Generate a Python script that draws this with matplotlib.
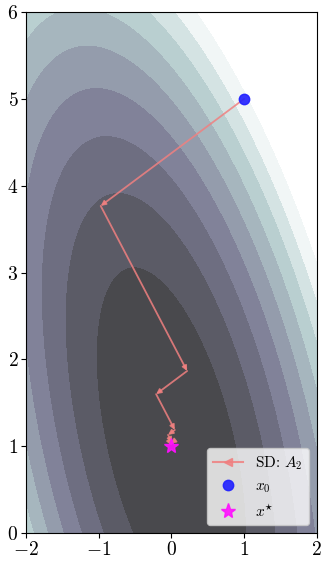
import numpy as np
import matplotlib
matplotlib.use("Agg")
import matplotlib.pyplot as plt
from matplotlib.lines import Line2D
from matplotlib.colors import ListedColormap

plt.rcParams['font.family'] = ['cmr10', 'DejaVu Sans']
plt.rcParams['mathtext.fontset'] = 'cm'
plt.rcParams['axes.unicode_minus'] = False

# Quadratic A_2 and minimiser
A2 = np.array([[4.0, 1.0], [1.0, 1.0]])
x_star = [0.0, 1.0]
x0 = [1.0, 5.0]
levels = [0.0, 1.6, 3.2, 4.8, 6.4, 8.0, 9.6, 11.2, 12.8, 14.4]

# steepest-descent iterates (exact line search)
path_x = [1.0, -0.972, 0.216, -0.210, 0.047, -0.046, 0.010, -0.010, 0.002]
path_y = [5.0, 3.767, 1.866, 1.599, 1.187, 1.130, 1.041, 1.028, 1.009]

xticks = [-2, -1, 0, 1, 2]
xtick_labels = ['$-2$', '$-1$', '$0$', '$1$', '$2$']
yticks = [0, 1, 2, 3, 4, 5, 6]
ytick_labels = ['$0$', '$1$', '$2$', '$3$', '$4$', '$5$', '$6$']

fig = plt.figure(figsize=(3.24, 5.62), dpi=100)
ax = fig.add_axes([0.080, 0.0516, 0.898, 0.927])

# bone colormap blended with white (alpha 0.75) -> opaque, no seams
alpha = 0.75
base = plt.get_cmap('bone')(np.linspace(0, 1, 256))[:, :3]
blend = 1 - alpha + alpha * base
cmap = ListedColormap(blend)

gx = np.linspace(-2, 2, 400)
gy = np.linspace(0, 6, 600)
X, Y = np.meshgrid(gx, gy)
DX = X - x_star[0]
DY = Y - x_star[1]
F = 0.5 * (A2[0, 0] * DX**2 + 2 * A2[0, 1] * DX * DY + A2[1, 1] * DY**2)
ax.contourf(X, Y, F, levels=levels, cmap=cmap, antialiased=False)

lc = '#f08080'
for i in range(len(path_x) - 1):
    ax.annotate('', xy=(path_x[i + 1], path_y[i + 1]), xytext=(path_x[i], path_y[i]),
                arrowprops=dict(arrowstyle='-|>', color=lc, lw=1.3, alpha=0.85,
                                mutation_scale=7, shrinkA=0, shrinkB=0))

ax.plot([x0[0]], [x0[1]], 'o', color='#2020ff', alpha=0.9, markersize=7.5, zorder=5)
ax.plot([x_star[0]], [x_star[1]], '*', color='#ff10ff', alpha=0.9, markersize=11, zorder=5)

ax.set_xlim(-2, 2)
ax.set_ylim(0, 6)
ax.set_xticks(xticks)
ax.set_xticklabels(xtick_labels, fontsize=14)
ax.set_yticks(yticks)
ax.set_yticklabels(ytick_labels, fontsize=14)
ax.tick_params(pad=2)

handles = [
    Line2D([], [], color=lc, lw=1.5, alpha=0.85, marker='<', markersize=6),
    Line2D([], [], color='#2020ff', alpha=0.9, marker='o', ls='none', markersize=7.5),
    Line2D([], [], color='#ff10ff', alpha=0.9, marker='*', ls='none', markersize=11),
]
labels = ['SD: $A_2$', '$x_0$', '$x^{\\star}$']
ax.legend(handles, labels, loc='lower right', fontsize=11, handlelength=2.0)

fig.savefig('out.png', dpi=100)
